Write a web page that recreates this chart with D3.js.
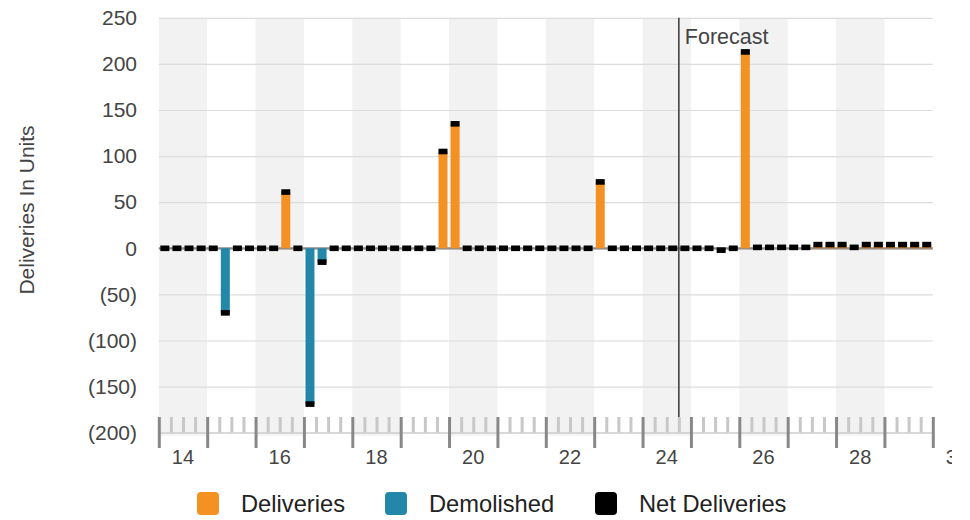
<!DOCTYPE html>
<html>
<head>
<meta charset="utf-8">
<script src="https://cdn.jsdelivr.net/npm/d3@7"></script>
<style>
  html, body { margin: 0; padding: 0; background: #fff; }
  svg { display: block; font-family: "Liberation Sans", Arial, Helvetica, sans-serif; }
</style>
</head>
<body>
<svg id="chart" width="970" height="520"></svg>
<script>
// Quarterly categories: one slot per quarter, 2014 Q1 .. 2029 Q4
const years = [2014, 2015, 2016, 2017, 2018, 2019, 2020, 2021, 2022, 2023, 2024, 2025, 2026, 2027, 2028, 2029];
const quarters = ["Q1", "Q2", "Q3", "Q4"];

// Units delivered per quarter (four values per year row)
const deliveries = [
  0, 0, 0, 0,      // 2014
  0, 0, 0, 0,      // 2015
  0, 0, 61, 0,     // 2016
  0, 0, 0, 0,      // 2017
  0, 0, 0, 0,      // 2018
  0, 0, 0, 105,    // 2019
  135, 0, 0, 0,    // 2020
  0, 0, 0, 0,      // 2021
  0, 0, 0, 0,      // 2022
  72, 0, 0, 0,     // 2023
  0, 0, 0, 0,      // 2024
  0, 0, 0, 0,      // 2025
  213, 1, 1, 1,    // 2026
  1, 1, 4, 4,      // 2027
  4, 1, 4, 4,      // 2028
  4, 4, 4, 4       // 2029
];

// Units demolished per quarter (negative)
const demolished = [
  0, 0, 0, 0,      // 2014
  0, -70, 0, 0,    // 2015
  0, 0, 0, 0,      // 2016
  -169, -15, 0, 0, // 2017
  0, 0, 0, 0,      // 2018
  0, 0, 0, 0,      // 2019
  0, 0, 0, 0,      // 2020
  0, 0, 0, 0,      // 2021
  0, 0, 0, 0,      // 2022
  0, 0, 0, 0,      // 2023
  0, 0, 0, 0,      // 2024
  0, 0, -2, 0,     // 2025
  0, 0, 0, 0,      // 2026
  0, 0, 0, 0,      // 2027
  0, 0, 0, 0,      // 2028
  0, 0, 0, 0       // 2029
];

// Net deliveries per quarter
const netDeliveries = [
  0, 0, 0, 0,      // 2014
  0, -70, 0, 0,    // 2015
  0, 0, 61, 0,     // 2016
  -169, -15, 0, 0, // 2017
  0, 0, 0, 0,      // 2018
  0, 0, 0, 105,    // 2019
  135, 0, 0, 0,    // 2020
  0, 0, 0, 0,      // 2021
  0, 0, 0, 0,      // 2022
  72, 0, 0, 0,     // 2023
  0, 0, 0, 0,      // 2024
  0, 0, -2, 0,     // 2025
  213, 1, 1, 1,    // 2026
  1, 1, 4, 4,      // 2027
  4, 1, 4, 4,      // 2028
  4, 4, 4, 4       // 2029
];

const yTicks = [-200, -150, -100, -50, 0, 50, 100, 150, 200, 250];
const xLabelYears = [2014, 2016, 2018, 2020, 2022, 2024, 2026, 2028, 2030];
const forecastStart = 2024.75;
const forecastLabel = "Forecast";
const yTitle = "Deliveries In Units";
const seriesNames = ["Deliveries", "Demolished", "Net Deliveries"];
const seriesColors = ["#f39122", "#2287a8", "#000000"];

// ---- layout ----
const svg = d3.select("#chart");
const plot = { left: 158.8, right: 932.8, top: 17.8, bottom: 432.7 };

const x = d3.scaleLinear().domain([years[0], years[years.length - 1] + 1]).range([plot.left, plot.right]);
const y = d3.scaleLinear().domain([-200, 250]).range([plot.bottom, plot.top]);

const rows = [];
years.forEach((yr, yi) => quarters.forEach((q, qi) => {
  const i = yi * 4 + qi;
  rows.push({ key: yr + " " + q, t: yr + (qi + 0.5) / 4, del: deliveries[i], dem: demolished[i], net: netDeliveries[i] });
}));

const barW = 9;

// alternating year bands
svg.append("g").selectAll("rect")
  .data(years.filter(yr => yr % 2 === 0))
  .join("rect")
  .attr("x", d => x(d)).attr("width", d => x(d + 1) - x(d))
  .attr("y", plot.top).attr("height", plot.bottom + 3 - plot.top)
  .attr("fill", "#f2f2f2");

// horizontal gridlines
svg.append("g")
  .attr("transform", `translate(${plot.left},0)`)
  .call(d3.axisLeft(y).tickValues(yTicks.filter(v => v !== -200)).tickSize(-(plot.right - plot.left)).tickFormat(""))
  .call(g => g.select(".domain").remove())
  .call(g => g.selectAll(".tick line").attr("stroke", "#dcdcdc").attr("stroke-width", 1.2));

// y tick labels
svg.append("g")
  .attr("transform", `translate(137,0)`)
  .call(d3.axisLeft(y).tickValues(yTicks).tickSize(0).tickPadding(0)
    .tickFormat(v => v < 0 ? `(${Math.abs(v)})` : `${v}`))
  .call(g => g.select(".domain").remove())
  .call(g => g.selectAll("text").attr("font-size", 21).attr("fill", "#444")
    .attr("font-family", "'Liberation Sans', Arial, Helvetica, sans-serif"));

// y title
svg.append("text")
  .attr("transform", `translate(34,210) rotate(-90)`)
  .attr("text-anchor", "middle")
  .attr("font-size", 21).attr("fill", "#444")
  .text(yTitle);

// zero line
svg.append("line")
  .attr("x1", plot.left).attr("x2", plot.right)
  .attr("y1", y(0)).attr("y2", y(0))
  .attr("stroke", "#8a8a8a").attr("stroke-width", 2.2);

// deliveries bars
svg.append("g").selectAll("rect")
  .data(rows.filter(d => d.del !== 0))
  .join("rect")
  .attr("x", d => x(d.t) - barW / 2).attr("width", barW)
  .attr("y", d => y(d.del)).attr("height", d => y(0) - y(d.del))
  .attr("fill", seriesColors[0]);

// demolished bars
svg.append("g").selectAll("rect")
  .data(rows.filter(d => d.dem !== 0))
  .join("rect")
  .attr("x", d => x(d.t) - barW / 2).attr("width", barW)
  .attr("y", y(0)).attr("height", d => y(d.dem) - y(0))
  .attr("fill", seriesColors[1]);

// net delivery markers
const mh = 5.6;
svg.append("g").selectAll("rect")
  .data(rows)
  .join("rect")
  .attr("x", d => x(d.t) - barW / 2).attr("width", barW)
  .attr("y", d => y(d.net) - mh / 2).attr("height", mh)
  .attr("fill", seriesColors[2]);

// x axis: baseline, minor quarter ticks, major year ticks
const axisY = 433;
svg.append("line")
  .attr("x1", plot.left).attr("x2", plot.right)
  .attr("y1", axisY).attr("y2", axisY)
  .attr("stroke", "#cccccc").attr("stroke-width", 1.5);

const minorTicks = [];
years.forEach(yr => [0.25, 0.5, 0.75].forEach(f => minorTicks.push(yr + f)));
svg.append("g")
  .attr("transform", `translate(0,417)`)
  .call(d3.axisBottom(x).tickValues(minorTicks).tickSize(15.5).tickFormat(""))
  .call(g => g.select(".domain").remove())
  .call(g => g.selectAll(".tick line").attr("stroke", "#c8c8c8").attr("stroke-width", 3));

const majorTicks = years.concat([years[years.length - 1] + 1]);
svg.append("g")
  .attr("transform", `translate(0,417)`)
  .call(d3.axisBottom(x).tickValues(majorTicks).tickSize(31).tickFormat(""))
  .call(g => g.select(".domain").remove())
  .call(g => g.selectAll(".tick line").attr("stroke", "#888").attr("stroke-width", 3));

// year labels, clipped at the right edge of the chart container
svg.append("defs").append("clipPath").attr("id", "xlabClip")
  .append("rect").attr("x", 0).attr("y", 0).attr("width", 952).attr("height", 520);

svg.append("g")
  .attr("clip-path", "url(#xlabClip)")
  .selectAll("text")
  .data(xLabelYears)
  .join("text")
  .attr("x", d => x(d + 0.5)).attr("y", 464)
  .attr("text-anchor", "middle")
  .attr("font-size", 20).attr("fill", "#444")
  .text(d => String(d).slice(2));

// forecast divider
svg.append("line")
  .attr("x1", x(forecastStart)).attr("x2", x(forecastStart))
  .attr("y1", plot.top).attr("y2", 417)
  .attr("stroke", "#444").attr("stroke-width", 1.6);

svg.append("text")
  .attr("x", x(forecastStart) + 6).attr("y", 44)
  .attr("font-size", 21.5).attr("fill", "#444")
  .text(forecastLabel);

// legend
const legendX = [197, 385, 595];
const legend = svg.append("g").selectAll("g")
  .data(seriesNames)
  .join("g")
  .attr("transform", (d, i) => `translate(${legendX[i]},492)`);
legend.append("rect")
  .attr("width", 22).attr("height", 23).attr("rx", 4)
  .attr("fill", (d, i) => seriesColors[i]);
legend.append("text")
  .attr("x", 44).attr("y", 20)
  .attr("font-size", 23.7).attr("fill", "#222")
  .text(d => d);
</script>
</body>
</html>
